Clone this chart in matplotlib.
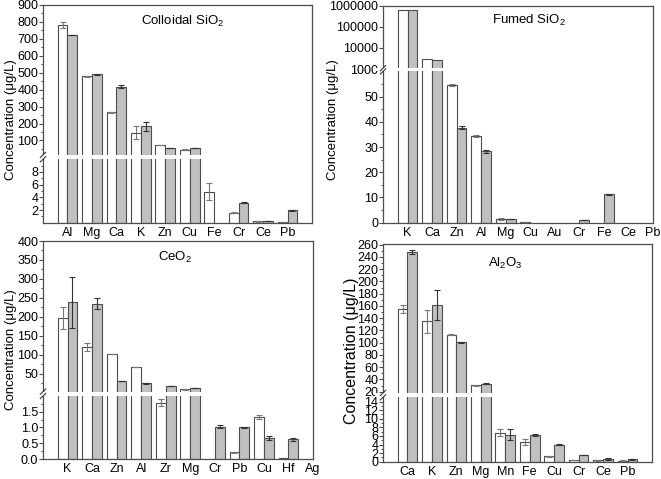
import numpy as np
import matplotlib
matplotlib.use('Agg')
import matplotlib.pyplot as plt
from matplotlib.patches import Rectangle

plt.rcParams['font.family'] = ['Liberation Sans', 'DejaVu Sans']
plt.rcParams['mathtext.default'] = 'regular'

# data (white = first sample, gray = second sample)
colloidal_cats = ['Al', 'Mg', 'Ca', 'K', 'Zn', 'Cu', 'Fe', 'Cr', 'Ce', 'Pb']
colloidal_white = [779, 478, 265, 146, 73, 46, 4.9, 1.6, 0.2, 0.1]
colloidal_white_err = [18, 3, 4, 40, 1, 1, 1.3, 0.05, 0.02, 0.02]
colloidal_gray = [722, 491, 418, 183, 56, 54, 0, 3.15, 0.3, 1.95]
colloidal_gray_err = [2, 3, 10, 28, 1, 1, 0, 0.05, 0.03, 0.03]

fumed_cats = ['K', 'Ca', 'Zn', 'Al', 'Mg', 'Cu', 'Au', 'Cr', 'Fe', 'Ce', 'Pb']
fumed_white = [650000, 2900, 54.7, 34.4, 1.6, 0.27, 0, 0, 0, 0, 0]
fumed_white_err = [0, 0, 0.5, 0.5, 0.4, 0.05, 0, 0, 0, 0, 0]
fumed_gray = [660000, 2700, 37.7, 28.3, 1.45, 0, 0, 1.1, 11.2, 0, 0]
fumed_gray_err = [0, 0, 0.5, 0.5, 0.1, 0, 0, 0.05, 0.2, 0, 0]

ceo2_cats = ['K', 'Ca', 'Zn', 'Al', 'Zr', 'Mg', 'Cr', 'Pb', 'Cu', 'Hf', 'Ag']
ceo2_white = [196, 120, 103, 68.5, 1.79, 8.8, 0, 0.21, 1.33, 0.04, 0]
ceo2_white_err = [29, 11, 0.5, 0.5, 0.12, 0.3, 0, 0.01, 0.06, 0, 0]
ceo2_gray = [238, 235, 30.5, 24.5, 18.3, 12.0, 1.03, 1.0, 0.66, 0.62, 0]
ceo2_gray_err = [67, 14, 0.5, 0.5, 0.5, 0.5, 0.04, 0.02, 0.06, 0.04, 0]

al2o3_cats = ['Ca', 'K', 'Zn', 'Mg', 'Mn', 'Fe', 'Cu', 'Cr', 'Ce', 'Pb']
al2o3_white = [155, 135, 113, 30.5, 6.8, 4.6, 1.25, 0.4, 0.3, 0.25]
al2o3_white_err = [7, 18.5, 1, 1, 0.8, 0.65, 0.1, 0.05, 0.05, 0.05]
al2o3_gray = [248, 161, 101, 33.3, 6.3, 6.2, 4.0, 1.55, 0.7, 0.55]
al2o3_gray_err = [3, 24.5, 1, 1, 1.3, 0.2, 0.1, 0.1, 0.25, 0.05]

EDGE = '#4d4d4d'
GRAY = '#c0c0c0'


def broken_linear(lo_max, f_lo, up_min, up_max, f_up):
    # piecewise linear axis: [0, lo_max] -> [0, f_lo], [up_min, up_max] -> [f_up, 1]
    slope = (1 - f_up) / (up_max - up_min)
    xp = [-lo_max, 0, lo_max, up_min, up_max, 2 * up_max]
    fp = [-f_lo, 0, f_lo, f_up, 1, 1 + slope * up_max]
    return (lambda v: np.interp(v, xp, fp)), (lambda f: np.interp(f, fp, xp))


def fumed_fwd(v):
    v = np.asarray(v, float)
    with np.errstate(all='ignore'):
        lin = v / 60 * 0.697
        mid = 0.697 + (v - 60) / 940 * (0.708 - 0.697)
        lg = 0.708 + (np.log10(np.maximum(v, 1e-9)) - 3) * 0.0973
    return np.where(v <= 60, lin, np.where(v >= 1000, lg, mid))


def fumed_inv(f):
    f = np.asarray(f, float)
    with np.errstate(all='ignore'):
        lin = f / 0.697 * 60
        mid = 60 + (f - 0.697) / (0.708 - 0.697) * 940
        lg = 10 ** (3 + (np.minimum(f, 2) - 0.708) / 0.0973)
    return np.where(f <= 0.697, lin, np.where(f >= 0.708, lg, mid))


def draw(ax, cats, white, white_err, gray, gray_err, fwd, inv, top,
         f_lo, f_up, major, major_lab, minor, title, title_xy, ylab_x, ylab_y,
         ylab_size=9.5):
    ax.set_yscale('function', functions=(fwd, inv))
    x = np.arange(1, len(cats) + 1)
    white = np.array(white, float)
    gray = np.array(gray, float)
    white_err = np.array(white_err, float)
    gray_err = np.array(gray_err, float)
    m = white > 0
    ax.bar(x[m] - 0.2, white[m], 0.4, color='white', edgecolor=EDGE, linewidth=0.8, zorder=2)
    m = gray > 0
    ax.bar(x[m] + 0.2, gray[m], 0.4, color=GRAY, edgecolor=EDGE, linewidth=0.8, zorder=2)
    e = white_err > 0
    ax.errorbar(x[e] - 0.2, white[e], yerr=white_err[e], fmt='none', ecolor='#777777',
                elinewidth=0.8, capsize=2.4, capthick=0.8, zorder=2.2)
    e = gray_err > 0
    ax.errorbar(x[e] + 0.2, gray[e], yerr=gray_err[e], fmt='none', ecolor='#333333',
                elinewidth=0.8, capsize=2.4, capthick=0.8, zorder=2.2)

    ax.set_xlim(0, 11)
    ax.set_ylim(0, top)
    ax.set_xticks(x)
    ax.set_xticklabels(cats)
    ax.set_yticks(major)
    ax.set_yticklabels(major_lab)
    ax.set_yticks(minor, minor=True)
    ax.tick_params(axis='x', length=0, labelsize=9, pad=3)
    ax.tick_params(axis='y', which='major', direction='out', length=2.6, width=0.8,
                   color=EDGE, labelsize=9, pad=0.8)
    ax.tick_params(axis='y', which='minor', direction='out', length=1.6, width=0.7, color=EDGE)
    for s in ax.spines.values():
        s.set_color(EDGE)
        s.set_linewidth(0.9)

    # break of the y axis
    ax.add_patch(Rectangle((-0.03, f_lo), 1.018, f_up - f_lo, transform=ax.transAxes,
                           facecolor='white', edgecolor='none', zorder=3, clip_on=False))
    for f in (f_lo, f_up):
        ax.plot([-0.01, 0.01], [f - 0.012, f + 0.012], transform=ax.transAxes,
                color='#333333', lw=0.8, clip_on=False, zorder=4)

    ax.text(title_xy[0], title_xy[1], title, transform=ax.transAxes, ha='center',
            va='center', fontsize=9.5)
    # the label anchor is its right edge (rotated text, va='bottom')
    ax.set_ylabel('Concentration (μg/L)', fontsize=ylab_size)
    ax.yaxis.set_label_coords(ylab_x, ylab_y)


fig = plt.figure(figsize=(6.61, 4.79), dpi=100)
ax1 = fig.add_axes([43 / 661, 1 - 222.7 / 479, 269 / 661, 218 / 479])
ax2 = fig.add_axes([383 / 661, 1 - 222.7 / 479, 270 / 661, 217 / 479])
ax3 = fig.add_axes([43 / 661, 1 - 459 / 479, 270 / 661, 218 / 479])
ax4 = fig.add_axes([383 / 661, 1 - 461.7 / 479, 269 / 661, 218.2 / 479])

# Colloidal SiO2
fwd, inv = broken_linear(10, 0.291, 15, 900, 0.311)
maj = [2, 4, 6, 8] + list(range(100, 901, 100))
draw(ax1, colloidal_cats, colloidal_white, colloidal_white_err, colloidal_gray, colloidal_gray_err,
     fwd, inv, 900, 0.291, 0.311, maj, [str(v) for v in maj],
     [1, 3, 5, 7, 9] + list(range(50, 900, 100)),
     'Colloidal SiO$_2$', (0.52, 0.925), -0.0967, 0.473)

# Fumed SiO2
maj = [0, 10, 20, 30, 40, 50, 1000, 10000, 100000, 1000000]
draw(ax2, fumed_cats, fumed_white, fumed_white_err, fumed_gray, fumed_gray_err,
     fumed_fwd, fumed_inv, 1000000, 0.697, 0.712, maj, [str(v) for v in maj],
     [5, 15, 25, 35, 45, 55],
     'Fumed SiO$_2$', (0.54, 0.934), -0.163, 0.473)

# CeO2
fwd, inv = broken_linear(2, 0.289, 3, 400, 0.309)
maj = [0, 0.5, 1.0, 1.5] + list(range(50, 401, 50))
lab = ['0.0', '0.5', '1.0', '1.5'] + [str(v) for v in range(50, 401, 50)]
draw(ax3, ceo2_cats, ceo2_white, ceo2_white_err, ceo2_gray, ceo2_gray_err,
     fwd, inv, 400, 0.289, 0.309, maj, lab,
     [0.25, 0.75, 1.25, 1.75] + list(range(25, 400, 50)),
     'CeO$_2$', (0.49, 0.923), -0.0967, 0.5)

# Al2O3
fwd, inv = broken_linear(15, 0.295, 18, 262, 0.315)
maj = list(range(0, 15, 2)) + list(range(20, 261, 20))
draw(ax4, al2o3_cats, al2o3_white, al2o3_white_err, al2o3_gray, al2o3_gray_err,
     fwd, inv, 262, 0.295, 0.315, maj, [str(v) for v in maj],
     list(range(1, 15, 2)) + list(range(30, 261, 20)),
     'Al$_2$O$_3$', (0.453, 0.909), -0.091, 0.51, ylab_size=11.5)

fig.savefig('out.png', dpi=100)
